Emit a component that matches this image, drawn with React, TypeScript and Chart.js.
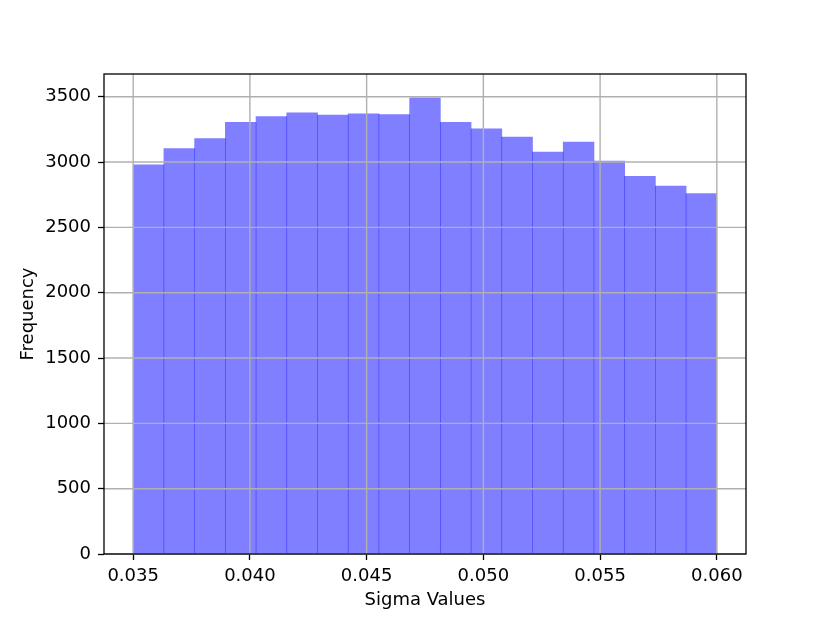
import React, { useEffect, useRef } from "react";
import { Chart, registerables } from "chart.js";

Chart.register(...registerables);

// Histogram: 19 equal bins spanning 0.035 .. 0.060
const BIN_START = 0.035;
const BIN_END = 0.06;
const counts = [
  2979, 3104, 3180, 3304, 3348, 3376, 3359, 3370, 3363, 3492,
  3304, 3254, 3191, 3076, 3152, 3008, 2890, 2817, 2758,
];
const xTickValues = [0.035, 0.04, 0.045, 0.05, 0.055, 0.06];
const xTickLabels = ["0.035", "0.040", "0.045", "0.050", "0.055", "0.060"];
const yTickValues = [0, 500, 1000, 1500, 2000, 2500, 3000, 3500];
const X_MIN = 0.03375;
const X_MAX = 0.06125;
const Y_MAX = 3674;

const FONT = "'DejaVu Sans', sans-serif";

const overlayPlugin = {
  id: "gridOverlay",
  afterDatasetsDraw(chart: any) {
    const { ctx, chartArea, scales } = chart;
    const { left, right, top, bottom } = chartArea;
    ctx.save();
    ctx.strokeStyle = "#b0b0b0";
    ctx.lineWidth = 1.4;
    xTickValues.forEach((v) => {
      const px = scales.x.getPixelForValue(v);
      ctx.beginPath();
      ctx.moveTo(px, top);
      ctx.lineTo(px, bottom);
      ctx.stroke();
    });
    yTickValues.forEach((v) => {
      const py = scales.y.getPixelForValue(v);
      ctx.beginPath();
      ctx.moveTo(left, py);
      ctx.lineTo(right, py);
      ctx.stroke();
    });
    ctx.strokeStyle = "#000";
    ctx.lineWidth = 1.3;
    ctx.strokeRect(left, top, right - left, bottom - top);
    ctx.restore();
  },
  afterDraw(chart: any) {
    const { ctx, chartArea, scales } = chart;
    ctx.save();
    ctx.fillStyle = "#000";
    ctx.font = "18px " + FONT;
    ctx.textAlign = "center";
    ctx.textBaseline = "alphabetic";
    xTickValues.forEach((v, i) => {
      const px = scales.x.getPixelForValue(v);
      ctx.fillText(xTickLabels[i], px, chartArea.bottom + 27);
    });
    ctx.restore();
  },
};

export default function App() {
  const ref = useRef<HTMLCanvasElement | null>(null);

  useEffect(() => {
    if (!ref.current) return;
    const n = counts.length;
    const w = (BIN_END - BIN_START) / n;
    const data = counts.map((c, i) => ({ x: BIN_START + (i + 0.5) * w, y: c }));

    const chart = new Chart(ref.current, {
      type: "bar",
      data: {
        datasets: [
          {
            data: data as any,
            backgroundColor: "rgba(0,0,255,0.5)",
            borderWidth: 0,
            barPercentage: 1,
            categoryPercentage: 1,
          },
        ],
      },
      options: {
        animation: false,
        responsive: false,
        maintainAspectRatio: false,
        layout: { padding: { top: 74, right: 84, left: 0, bottom: 0 } },
        plugins: {
          legend: { display: false },
          tooltip: { enabled: false },
        },
        scales: {
          x: {
            type: "linear",
            min: X_MIN,
            max: X_MAX,
            offset: false,
            afterBuildTicks: (scale: any) => {
              scale.ticks = xTickValues.map((v) => ({ value: v }));
            },
            afterFit: (scale: any) => {
              scale.height = 69;
            },
            ticks: {
              display: false,
              autoSkip: false,
              maxRotation: 0,
            },
            grid: {
              offset: false,
              drawOnChartArea: false,
              drawTicks: true,
              tickLength: 6,
              tickColor: "#000",
              tickWidth: 1.3,
              color: "#000",
            },
            border: { display: false },
            title: {
              display: true,
              text: "Sigma Values",
              color: "#000",
              font: { family: FONT, size: 18, lineHeight: 1.2 },
              padding: { top: 0, bottom: 12 },
            },
          },
          y: {
            type: "linear",
            min: 0,
            max: Y_MAX,
            afterBuildTicks: (scale: any) => {
              scale.ticks = yTickValues.map((v) => ({ value: v }));
            },
            afterFit: (scale: any) => {
              scale.width = 104;
            },
            ticks: {
              padding: 7,
              color: "#000",
              font: { family: FONT, size: 18 },
              callback: (v: any) => String(v),
            },
            grid: {
              offset: false,
              drawOnChartArea: false,
              drawTicks: true,
              tickLength: 6,
              tickColor: "#000",
              tickWidth: 1.3,
              color: "#000",
            },
            border: { display: false },
            title: {
              display: true,
              text: "Frequency",
              color: "#000",
              font: { family: FONT, size: 18, lineHeight: 1.2 },
              padding: { top: 18, bottom: 0 },
            },
          },
        },
      },
      plugins: [overlayPlugin],
    });
    return () => chart.destroy();
  }, []);

  return (
    <div style={{ position: "absolute", left: 0, top: 0, width: 830, height: 623, background: "#fff" }}>
      <canvas ref={ref} width={830} height={623} style={{ display: "block", width: 830, height: 623 }} />
    </div>
  );
}
